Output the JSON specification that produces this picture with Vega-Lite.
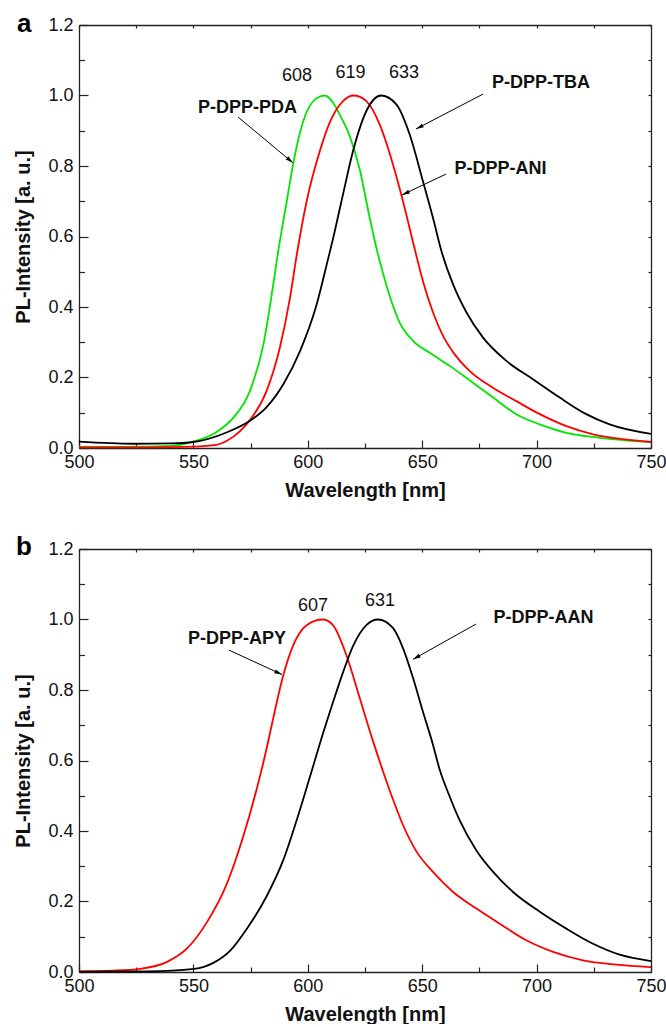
{
  "$schema": "https://vega.github.io/schema/vega-lite/v6.json",
  "background": "white",
  "padding": {"left": 13, "top": 11, "right": 5, "bottom": 0},
  "spacing": 34,
  "config": {
    "view": {"stroke": null},
    "font": "Liberation Sans",
    "axis": {
      "grid": false,
      "domainColor": "#222222",
      "domainWidth": 1.3,
      "tickColor": "#222222",
      "tickWidth": 1.2,
      "labelFont": "Liberation Sans",
      "labelFontSize": 18,
      "labelColor": "#111111",
      "labelFlush": false,
      "labelOverlap": false,
      "titleFont": "Liberation Sans",
      "titleFontSize": 20,
      "titleFontWeight": "bold",
      "titleColor": "#111111"
    }
  },
  "resolve": {"scale": {"color": "independent"}},
  "datasets": {
    "a_curves": [
      {"series": "P-DPP-PDA", "wl": 500, "pl": 0.003},
      {"series": "P-DPP-PDA", "wl": 520, "pl": 0.003},
      {"series": "P-DPP-PDA", "wl": 540, "pl": 0.006},
      {"series": "P-DPP-PDA", "wl": 550, "pl": 0.018},
      {"series": "P-DPP-PDA", "wl": 560, "pl": 0.045},
      {"series": "P-DPP-PDA", "wl": 567.5, "pl": 0.086},
      {"series": "P-DPP-PDA", "wl": 574.7, "pl": 0.162},
      {"series": "P-DPP-PDA", "wl": 580.6, "pl": 0.294},
      {"series": "P-DPP-PDA", "wl": 584.9, "pl": 0.464},
      {"series": "P-DPP-PDA", "wl": 587.1, "pl": 0.559},
      {"series": "P-DPP-PDA", "wl": 590.8, "pl": 0.70},
      {"series": "P-DPP-PDA", "wl": 593.7, "pl": 0.809},
      {"series": "P-DPP-PDA", "wl": 596.6, "pl": 0.895},
      {"series": "P-DPP-PDA", "wl": 598.8, "pl": 0.942},
      {"series": "P-DPP-PDA", "wl": 601, "pl": 0.972},
      {"series": "P-DPP-PDA", "wl": 604, "pl": 0.993},
      {"series": "P-DPP-PDA", "wl": 607.5, "pl": 1.0},
      {"series": "P-DPP-PDA", "wl": 611, "pl": 0.98},
      {"series": "P-DPP-PDA", "wl": 614, "pl": 0.945},
      {"series": "P-DPP-PDA", "wl": 618.3, "pl": 0.885},
      {"series": "P-DPP-PDA", "wl": 622.7, "pl": 0.79},
      {"series": "P-DPP-PDA", "wl": 627, "pl": 0.655},
      {"series": "P-DPP-PDA", "wl": 630.3, "pl": 0.559},
      {"series": "P-DPP-PDA", "wl": 632.9, "pl": 0.495},
      {"series": "P-DPP-PDA", "wl": 636.5, "pl": 0.417},
      {"series": "P-DPP-PDA", "wl": 640.2, "pl": 0.355},
      {"series": "P-DPP-PDA", "wl": 646, "pl": 0.304},
      {"series": "P-DPP-PDA", "wl": 653.3, "pl": 0.27},
      {"series": "P-DPP-PDA", "wl": 662, "pl": 0.233},
      {"series": "P-DPP-PDA", "wl": 672.2, "pl": 0.185},
      {"series": "P-DPP-PDA", "wl": 681, "pl": 0.143},
      {"series": "P-DPP-PDA", "wl": 691.1, "pl": 0.096},
      {"series": "P-DPP-PDA", "wl": 701.4, "pl": 0.067},
      {"series": "P-DPP-PDA", "wl": 713, "pl": 0.043},
      {"series": "P-DPP-PDA", "wl": 727.6, "pl": 0.029},
      {"series": "P-DPP-PDA", "wl": 750, "pl": 0.017},
      {"series": "P-DPP-ANI", "wl": 500, "pl": 0.002},
      {"series": "P-DPP-ANI", "wl": 530, "pl": 0.002},
      {"series": "P-DPP-ANI", "wl": 550, "pl": 0.004},
      {"series": "P-DPP-ANI", "wl": 560, "pl": 0.009},
      {"series": "P-DPP-ANI", "wl": 564.5, "pl": 0.02},
      {"series": "P-DPP-ANI", "wl": 570.4, "pl": 0.048},
      {"series": "P-DPP-ANI", "wl": 574.7, "pl": 0.079},
      {"series": "P-DPP-ANI", "wl": 582, "pl": 0.162},
      {"series": "P-DPP-ANI", "wl": 587.8, "pl": 0.285},
      {"series": "P-DPP-ANI", "wl": 592.2, "pl": 0.425},
      {"series": "P-DPP-ANI", "wl": 595.1, "pl": 0.545},
      {"series": "P-DPP-ANI", "wl": 599.5, "pl": 0.70},
      {"series": "P-DPP-ANI", "wl": 605.3, "pl": 0.843},
      {"series": "P-DPP-ANI", "wl": 609.7, "pl": 0.925},
      {"series": "P-DPP-ANI", "wl": 615.4, "pl": 0.984},
      {"series": "P-DPP-ANI", "wl": 620, "pl": 1.0},
      {"series": "P-DPP-ANI", "wl": 625.6, "pl": 0.984},
      {"series": "P-DPP-ANI", "wl": 631.4, "pl": 0.918},
      {"series": "P-DPP-ANI", "wl": 637.2, "pl": 0.805},
      {"series": "P-DPP-ANI", "wl": 641.6, "pl": 0.70},
      {"series": "P-DPP-ANI", "wl": 646.7, "pl": 0.565},
      {"series": "P-DPP-ANI", "wl": 650.3, "pl": 0.474},
      {"series": "P-DPP-ANI", "wl": 654.7, "pl": 0.385},
      {"series": "P-DPP-ANI", "wl": 659.1, "pl": 0.318},
      {"series": "P-DPP-ANI", "wl": 663.5, "pl": 0.272},
      {"series": "P-DPP-ANI", "wl": 670.8, "pl": 0.218},
      {"series": "P-DPP-ANI", "wl": 680.9, "pl": 0.171},
      {"series": "P-DPP-ANI", "wl": 691.1, "pl": 0.133},
      {"series": "P-DPP-ANI", "wl": 701.4, "pl": 0.096},
      {"series": "P-DPP-ANI", "wl": 713, "pl": 0.062},
      {"series": "P-DPP-ANI", "wl": 724.7, "pl": 0.039},
      {"series": "P-DPP-ANI", "wl": 737.8, "pl": 0.025},
      {"series": "P-DPP-ANI", "wl": 750, "pl": 0.017},
      {"series": "P-DPP-TBA", "wl": 500, "pl": 0.018},
      {"series": "P-DPP-TBA", "wl": 523.7, "pl": 0.012},
      {"series": "P-DPP-TBA", "wl": 540, "pl": 0.013},
      {"series": "P-DPP-TBA", "wl": 550, "pl": 0.017},
      {"series": "P-DPP-TBA", "wl": 564.5, "pl": 0.044},
      {"series": "P-DPP-TBA", "wl": 574.7, "pl": 0.077},
      {"series": "P-DPP-TBA", "wl": 582, "pl": 0.116},
      {"series": "P-DPP-TBA", "wl": 589.3, "pl": 0.181},
      {"series": "P-DPP-TBA", "wl": 596.6, "pl": 0.275},
      {"series": "P-DPP-TBA", "wl": 603.9, "pl": 0.408},
      {"series": "P-DPP-TBA", "wl": 609, "pl": 0.54},
      {"series": "P-DPP-TBA", "wl": 611, "pl": 0.593},
      {"series": "P-DPP-TBA", "wl": 615.4, "pl": 0.72},
      {"series": "P-DPP-TBA", "wl": 619.8, "pl": 0.843},
      {"series": "P-DPP-TBA", "wl": 625.6, "pl": 0.956},
      {"series": "P-DPP-TBA", "wl": 632, "pl": 1.0},
      {"series": "P-DPP-TBA", "wl": 638.7, "pl": 0.975},
      {"series": "P-DPP-TBA", "wl": 644.5, "pl": 0.89},
      {"series": "P-DPP-TBA", "wl": 650.3, "pl": 0.757},
      {"series": "P-DPP-TBA", "wl": 654.7, "pl": 0.653},
      {"series": "P-DPP-TBA", "wl": 658.4, "pl": 0.559},
      {"series": "P-DPP-TBA", "wl": 663.5, "pl": 0.464},
      {"series": "P-DPP-TBA", "wl": 669.3, "pl": 0.385},
      {"series": "P-DPP-TBA", "wl": 676.6, "pl": 0.313},
      {"series": "P-DPP-TBA", "wl": 686.8, "pl": 0.247},
      {"series": "P-DPP-TBA", "wl": 698.4, "pl": 0.195},
      {"series": "P-DPP-TBA", "wl": 710.1, "pl": 0.143},
      {"series": "P-DPP-TBA", "wl": 721.7, "pl": 0.096},
      {"series": "P-DPP-TBA", "wl": 731.9, "pl": 0.067},
      {"series": "P-DPP-TBA", "wl": 750, "pl": 0.04}
    ],
    "b_curves": [
      {"series": "P-DPP-APY", "wl": 500, "pl": 0.002},
      {"series": "P-DPP-APY", "wl": 515, "pl": 0.004},
      {"series": "P-DPP-APY", "wl": 526.7, "pl": 0.009},
      {"series": "P-DPP-APY", "wl": 538.3, "pl": 0.028},
      {"series": "P-DPP-APY", "wl": 547.1, "pl": 0.066},
      {"series": "P-DPP-APY", "wl": 555.8, "pl": 0.14},
      {"series": "P-DPP-APY", "wl": 564.6, "pl": 0.25},
      {"series": "P-DPP-APY", "wl": 571.8, "pl": 0.385},
      {"series": "P-DPP-APY", "wl": 577.7, "pl": 0.52},
      {"series": "P-DPP-APY", "wl": 580.6, "pl": 0.595},
      {"series": "P-DPP-APY", "wl": 584.9, "pl": 0.72},
      {"series": "P-DPP-APY", "wl": 588.6, "pl": 0.825},
      {"series": "P-DPP-APY", "wl": 593.7, "pl": 0.928},
      {"series": "P-DPP-APY", "wl": 599.5, "pl": 0.984},
      {"series": "P-DPP-APY", "wl": 606.5, "pl": 1.0},
      {"series": "P-DPP-APY", "wl": 611, "pl": 0.984},
      {"series": "P-DPP-APY", "wl": 616.8, "pl": 0.90},
      {"series": "P-DPP-APY", "wl": 622.7, "pl": 0.777},
      {"series": "P-DPP-APY", "wl": 628.5, "pl": 0.655},
      {"series": "P-DPP-APY", "wl": 632.9, "pl": 0.569},
      {"series": "P-DPP-APY", "wl": 637.2, "pl": 0.49},
      {"series": "P-DPP-APY", "wl": 641.6, "pl": 0.417},
      {"series": "P-DPP-APY", "wl": 647.4, "pl": 0.343},
      {"series": "P-DPP-APY", "wl": 654.7, "pl": 0.284},
      {"series": "P-DPP-APY", "wl": 663.5, "pl": 0.227},
      {"series": "P-DPP-APY", "wl": 673.7, "pl": 0.18},
      {"series": "P-DPP-APY", "wl": 683.9, "pl": 0.137},
      {"series": "P-DPP-APY", "wl": 695.5, "pl": 0.09},
      {"series": "P-DPP-APY", "wl": 707.2, "pl": 0.057},
      {"series": "P-DPP-APY", "wl": 720.3, "pl": 0.033},
      {"series": "P-DPP-APY", "wl": 734.8, "pl": 0.021},
      {"series": "P-DPP-APY", "wl": 750, "pl": 0.014},
      {"series": "P-DPP-AAN", "wl": 500, "pl": 0.001},
      {"series": "P-DPP-AAN", "wl": 530, "pl": 0.002},
      {"series": "P-DPP-AAN", "wl": 550.4, "pl": 0.009},
      {"series": "P-DPP-AAN", "wl": 558.7, "pl": 0.026},
      {"series": "P-DPP-AAN", "wl": 566, "pl": 0.06},
      {"series": "P-DPP-AAN", "wl": 573.3, "pl": 0.122},
      {"series": "P-DPP-AAN", "wl": 582, "pl": 0.215},
      {"series": "P-DPP-AAN", "wl": 589.3, "pl": 0.318},
      {"series": "P-DPP-AAN", "wl": 595.1, "pl": 0.43},
      {"series": "P-DPP-AAN", "wl": 601, "pl": 0.555},
      {"series": "P-DPP-AAN", "wl": 606.8, "pl": 0.68},
      {"series": "P-DPP-AAN", "wl": 611, "pl": 0.765},
      {"series": "P-DPP-AAN", "wl": 615.4, "pl": 0.85},
      {"series": "P-DPP-AAN", "wl": 619.8, "pl": 0.925},
      {"series": "P-DPP-AAN", "wl": 625.6, "pl": 0.984},
      {"series": "P-DPP-AAN", "wl": 630.7, "pl": 1.0},
      {"series": "P-DPP-AAN", "wl": 637.2, "pl": 0.976},
      {"series": "P-DPP-AAN", "wl": 641.6, "pl": 0.919},
      {"series": "P-DPP-AAN", "wl": 646, "pl": 0.834},
      {"series": "P-DPP-AAN", "wl": 650.3, "pl": 0.739},
      {"series": "P-DPP-AAN", "wl": 654.7, "pl": 0.645},
      {"series": "P-DPP-AAN", "wl": 657.6, "pl": 0.575},
      {"series": "P-DPP-AAN", "wl": 662, "pl": 0.498},
      {"series": "P-DPP-AAN", "wl": 666.4, "pl": 0.43},
      {"series": "P-DPP-AAN", "wl": 673.7, "pl": 0.345},
      {"series": "P-DPP-AAN", "wl": 681, "pl": 0.284},
      {"series": "P-DPP-AAN", "wl": 689.7, "pl": 0.227},
      {"series": "P-DPP-AAN", "wl": 701.4, "pl": 0.171},
      {"series": "P-DPP-AAN", "wl": 713, "pl": 0.123},
      {"series": "P-DPP-AAN", "wl": 724.7, "pl": 0.08},
      {"series": "P-DPP-AAN", "wl": 736.3, "pl": 0.049},
      {"series": "P-DPP-AAN", "wl": 750, "pl": 0.031}
    ],
    "a_peaks": [
      {"wl": 595.3, "pl": 1.055, "label": "608"},
      {"wl": 618.7, "pl": 1.064, "label": "619"},
      {"wl": 642.0, "pl": 1.064, "label": "633"}
    ],
    "a_names": [
      {"wl": 573.6, "pl": 0.965, "label": "P-DPP-PDA"},
      {"wl": 701.9, "pl": 1.035, "label": "P-DPP-TBA"},
      {"wl": 684.2, "pl": 0.791, "label": "P-DPP-ANI"}
    ],
    "a_arrows": [
      {"target": "P-DPP-PDA", "wl": 569.5, "pl": 0.939, "wl_end": 593.5, "pl_end": 0.809},
      {"target": "P-DPP-TBA", "wl": 676.6, "pl": 1.004, "wl_end": 647.3, "pl_end": 0.905},
      {"target": "P-DPP-ANI", "wl": 660.4, "pl": 0.777, "wl_end": 641.2, "pl_end": 0.718}
    ],
    "b_peaks": [
      {"wl": 602.3, "pl": 1.038, "label": "607"},
      {"wl": 631.6, "pl": 1.052, "label": "631"}
    ],
    "b_names": [
      {"wl": 569.1, "pl": 0.944, "label": "P-DPP-APY"},
      {"wl": 703.0, "pl": 1.004, "label": "P-DPP-AAN"}
    ],
    "b_arrows": [
      {"target": "P-DPP-APY", "wl": 565.6, "pl": 0.913, "wl_end": 588.7, "pl_end": 0.844},
      {"target": "P-DPP-AAN", "wl": 673.5, "pl": 0.987, "wl_end": 646.0, "pl_end": 0.887}
    ]
  },
  "vconcat": [
    {
      "width": 572,
      "height": 423,
      "title": {"text": "a", "anchor": "start", "frame": "bounds", "orient": "top", "fontSize": 26, "fontWeight": "bold", "font": "Liberation Sans", "baseline": "alphabetic", "offset": -42, "dx": 3, "color": "#000000"},
      "resolve": {"axis": {"x": "independent", "y": "independent"}},
      "layer": [
        {
          "data": {"name": "a_curves"},
          "mark": {"type": "line", "strokeWidth": 1.8, "interpolate": "monotone"},
          "encoding": {
            "x": {"field": "wl", "type": "quantitative", "scale": {"domain": [500, 750], "zero": false, "nice": false},
              "axis": {"orient": "bottom", "values": [500, 550, 600, 650, 700, 750], "format": "d", "tickSize": -8, "labelPadding": 13, "title": "Wavelength [nm]", "titlePadding": 9}},
            "y": {"field": "pl", "type": "quantitative", "scale": {"domain": [0, 1.2], "nice": false},
              "axis": {"orient": "left", "values": [0, 0.2, 0.4, 0.6, 0.8, 1.0, 1.2], "format": ".1f", "tickSize": -9, "labelPadding": 15, "title": "PL-Intensity [a. u.]", "titlePadding": 14}},
            "color": {"field": "series", "type": "nominal", "scale": {"domain": ["P-DPP-PDA", "P-DPP-ANI", "P-DPP-TBA"], "range": ["#00e600", "#ff0000", "#000000"]}, "legend": null}
          }
        },
        {
          "data": {"name": "a_peaks"},
          "mark": {"type": "text", "fontSize": 18, "font": "Liberation Sans", "align": "center", "baseline": "middle", "color": "#111111"},
          "encoding": {
            "x": {"field": "wl", "type": "quantitative", "scale": {"domain": [500, 750], "zero": false, "nice": false},
              "axis": {"orient": "bottom", "values": [525, 575, 625, 675, 725], "tickSize": -5, "labels": false, "domain": false, "title": null}},
            "y": {"field": "pl", "type": "quantitative", "scale": {"domain": [0, 1.2], "nice": false},
              "axis": {"orient": "left", "values": [0.1, 0.3, 0.5, 0.7, 0.9, 1.1], "tickSize": -5.5, "labels": false, "domain": false, "title": null}},
            "text": {"field": "label"}
          }
        },
        {
          "data": {"name": "a_names"},
          "mark": {"type": "text", "fontSize": 18, "fontWeight": "bold", "font": "Liberation Sans", "align": "center", "baseline": "middle", "color": "#111111"},
          "encoding": {
            "x": {"field": "wl", "type": "quantitative", "scale": {"domain": [500, 750], "zero": false, "nice": false},
              "axis": {"orient": "top", "values": [500, 525, 550, 575, 600, 625, 650, 675, 700, 725, 750], "tickSize": -3, "labels": false, "title": null}},
            "y": {"field": "pl", "type": "quantitative", "scale": {"domain": [0, 1.2], "nice": false},
              "axis": {"orient": "right", "values": [0, 0.1, 0.2, 0.3, 0.4, 0.5, 0.6, 0.7, 0.8, 0.9, 1.0, 1.1, 1.2], "tickSize": -3, "labels": false, "title": null}},
            "text": {"field": "label"}
          }
        },
        {
          "data": {"name": "a_arrows"},
          "mark": {"type": "rule", "strokeWidth": 1, "color": "#000000"},
          "encoding": {
            "x": {"field": "wl", "type": "quantitative", "scale": {"domain": [500, 750], "zero": false, "nice": false}, "axis": null},
            "y": {"field": "pl", "type": "quantitative", "scale": {"domain": [0, 1.2], "nice": false}, "axis": null},
            "x2": {"field": "wl_end"},
            "y2": {"field": "pl_end"}
          }
        },
        {
          "data": {"name": "a_arrows"},
          "transform": [{"filter": "datum.target === 'P-DPP-PDA'"}],
          "mark": {"type": "point", "shape": "M0,0L0.45,1.7L-0.45,1.7Z", "filled": true, "size": 81, "angle": 130, "color": "#000000", "opacity": 1},
          "encoding": {
            "x": {"field": "wl_end", "type": "quantitative", "scale": {"domain": [500, 750], "zero": false, "nice": false}, "axis": null},
            "y": {"field": "pl_end", "type": "quantitative", "scale": {"domain": [0, 1.2], "nice": false}, "axis": null}
          }
        },
        {
          "data": {"name": "a_arrows"},
          "transform": [{"filter": "datum.target === 'P-DPP-TBA'"}],
          "mark": {"type": "point", "shape": "M0,0L0.45,1.7L-0.45,1.7Z", "filled": true, "size": 81, "angle": 242.4, "color": "#000000", "opacity": 1},
          "encoding": {
            "x": {"field": "wl_end", "type": "quantitative", "scale": {"domain": [500, 750], "zero": false, "nice": false}, "axis": null},
            "y": {"field": "pl_end", "type": "quantitative", "scale": {"domain": [0, 1.2], "nice": false}, "axis": null}
          }
        },
        {
          "data": {"name": "a_arrows"},
          "transform": [{"filter": "datum.target === 'P-DPP-ANI'"}],
          "mark": {"type": "point", "shape": "M0,0L0.45,1.7L-0.45,1.7Z", "filled": true, "size": 81, "angle": 244.5, "color": "#000000", "opacity": 1},
          "encoding": {
            "x": {"field": "wl_end", "type": "quantitative", "scale": {"domain": [500, 750], "zero": false, "nice": false}, "axis": null},
            "y": {"field": "pl_end", "type": "quantitative", "scale": {"domain": [0, 1.2], "nice": false}, "axis": null}
          }
        }
      ]
    },
    {
      "width": 572,
      "height": 423,
      "title": {"text": "b", "anchor": "start", "frame": "bounds", "orient": "top", "fontSize": 26, "fontWeight": "bold", "font": "Liberation Sans", "baseline": "alphabetic", "offset": -41, "dx": 2, "color": "#000000"},
      "resolve": {"axis": {"x": "independent", "y": "independent"}},
      "layer": [
        {
          "data": {"name": "b_curves"},
          "mark": {"type": "line", "strokeWidth": 1.8, "interpolate": "monotone"},
          "encoding": {
            "x": {"field": "wl", "type": "quantitative", "scale": {"domain": [500, 750], "zero": false, "nice": false},
              "axis": {"orient": "bottom", "values": [500, 550, 600, 650, 700, 750], "format": "d", "tickSize": -8, "labelPadding": 13, "title": "Wavelength [nm]", "titlePadding": 9}},
            "y": {"field": "pl", "type": "quantitative", "scale": {"domain": [0, 1.2], "nice": false},
              "axis": {"orient": "left", "values": [0, 0.2, 0.4, 0.6, 0.8, 1.0, 1.2], "format": ".1f", "tickSize": -9, "labelPadding": 15, "title": "PL-Intensity [a. u.]", "titlePadding": 14}},
            "color": {"field": "series", "type": "nominal", "scale": {"domain": ["P-DPP-APY", "P-DPP-AAN"], "range": ["#ff0000", "#000000"]}, "legend": null}
          }
        },
        {
          "data": {"name": "b_peaks"},
          "mark": {"type": "text", "fontSize": 18, "font": "Liberation Sans", "align": "center", "baseline": "middle", "color": "#111111"},
          "encoding": {
            "x": {"field": "wl", "type": "quantitative", "scale": {"domain": [500, 750], "zero": false, "nice": false},
              "axis": {"orient": "bottom", "values": [525, 575, 625, 675, 725], "tickSize": -5, "labels": false, "domain": false, "title": null}},
            "y": {"field": "pl", "type": "quantitative", "scale": {"domain": [0, 1.2], "nice": false},
              "axis": {"orient": "left", "values": [0.1, 0.3, 0.5, 0.7, 0.9, 1.1], "tickSize": -5.5, "labels": false, "domain": false, "title": null}},
            "text": {"field": "label"}
          }
        },
        {
          "data": {"name": "b_names"},
          "mark": {"type": "text", "fontSize": 18, "fontWeight": "bold", "font": "Liberation Sans", "align": "center", "baseline": "middle", "color": "#111111"},
          "encoding": {
            "x": {"field": "wl", "type": "quantitative", "scale": {"domain": [500, 750], "zero": false, "nice": false},
              "axis": {"orient": "top", "values": [500, 525, 550, 575, 600, 625, 650, 675, 700, 725, 750], "tickSize": -3, "labels": false, "title": null}},
            "y": {"field": "pl", "type": "quantitative", "scale": {"domain": [0, 1.2], "nice": false},
              "axis": {"orient": "right", "values": [0, 0.1, 0.2, 0.3, 0.4, 0.5, 0.6, 0.7, 0.8, 0.9, 1.0, 1.1, 1.2], "tickSize": -3, "labels": false, "title": null}},
            "text": {"field": "label"}
          }
        },
        {
          "data": {"name": "b_arrows"},
          "mark": {"type": "rule", "strokeWidth": 1, "color": "#000000"},
          "encoding": {
            "x": {"field": "wl", "type": "quantitative", "scale": {"domain": [500, 750], "zero": false, "nice": false}, "axis": null},
            "y": {"field": "pl", "type": "quantitative", "scale": {"domain": [0, 1.2], "nice": false}, "axis": null},
            "x2": {"field": "wl_end"},
            "y2": {"field": "pl_end"}
          }
        },
        {
          "data": {"name": "b_arrows"},
          "transform": [{"filter": "datum.target === 'P-DPP-APY'"}],
          "mark": {"type": "point", "shape": "M0,0L0.45,1.7L-0.45,1.7Z", "filled": true, "size": 81, "angle": 114.4, "color": "#000000", "opacity": 1},
          "encoding": {
            "x": {"field": "wl_end", "type": "quantitative", "scale": {"domain": [500, 750], "zero": false, "nice": false}, "axis": null},
            "y": {"field": "pl_end", "type": "quantitative", "scale": {"domain": [0, 1.2], "nice": false}, "axis": null}
          }
        },
        {
          "data": {"name": "b_arrows"},
          "transform": [{"filter": "datum.target === 'P-DPP-AAN'"}],
          "mark": {"type": "point", "shape": "M0,0L0.45,1.7L-0.45,1.7Z", "filled": true, "size": 81, "angle": 240.9, "color": "#000000", "opacity": 1},
          "encoding": {
            "x": {"field": "wl_end", "type": "quantitative", "scale": {"domain": [500, 750], "zero": false, "nice": false}, "axis": null},
            "y": {"field": "pl_end", "type": "quantitative", "scale": {"domain": [0, 1.2], "nice": false}, "axis": null}
          }
        }
      ]
    }
  ]
}
